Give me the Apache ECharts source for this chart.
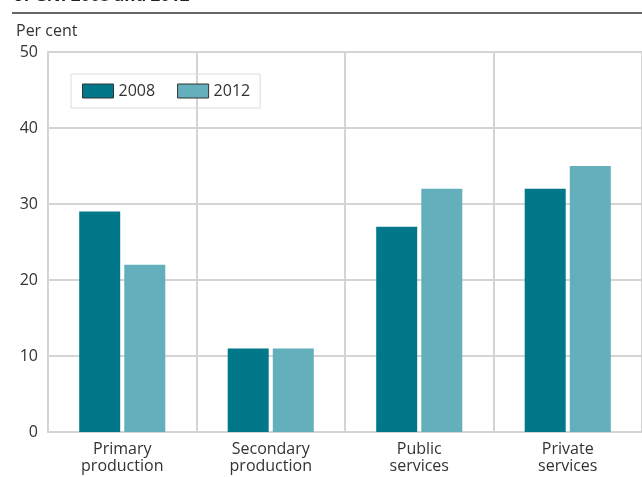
<!DOCTYPE html>
<html>
<head>
<meta charset="utf-8">
<script src="https://cdn.jsdelivr.net/npm/echarts@6/dist/echarts.min.js"></script>
<style>
  html, body { margin: 0; padding: 0; background: #fff; }
  #chart { width: 642px; height: 477px; }
</style>
</head>
<body>
<div id="chart"></div>
<script>
var categories = ['Primary\nproduction', 'Secondary\nproduction', 'Public\nservices', 'Private\nservices'];
var values2008 = [29, 11, 27, 32];
var values2012 = [22, 11, 32, 35];
var seriesNames = ['2008', '2012'];

var chart = echarts.init(document.getElementById('chart'));
var font = 'Open Sans';
var gridGray = '#d4d4d4';

var option = {
    animation: false,
    textStyle: { fontFamily: font },
    graphic: [
        {
            type: 'text', left: 13, top: -12,
            style: { text: 'of GNI 2008 and 2012', fontSize: 17, fontWeight: 'bold', fontFamily: font, fill: '#222' }
        },
        {
            type: 'line', shape: { x1: 12, y1: 13, x2: 642, y2: 13 },
            style: { stroke: '#333', lineWidth: 1.5 }
        },
        {
            type: 'text', left: 16, top: 23,
            style: { text: 'Per cent', fontSize: 16, fontFamily: font, fill: '#333' }
        }
    ],
    legend: {
        left: 71, top: 74,
        data: seriesNames,
        icon: 'rect',
        itemWidth: 31, itemHeight: 14, itemGap: 22,
        padding: [9, 10, 9, 11],
        borderColor: '#dcdcdc', borderWidth: 1,
        itemStyle: { borderColor: '#333', borderWidth: 1 },
        textStyle: { fontSize: 16, color: '#333', fontFamily: font }
    },
    grid: { left: 48, right: -2, top: 52, bottom: 45, containLabel: false },
    xAxis: {
        type: 'category',
        data: categories,
        axisLine: { lineStyle: { color: gridGray, width: 2 } },
        axisTick: { show: false },
        splitLine: { show: true, lineStyle: { color: gridGray, width: 2 } },
        axisLabel: { fontSize: 16, lineHeight: 17, color: '#333', margin: 9, fontFamily: font }
    },
    yAxis: {
        type: 'value', min: 0, max: 50, interval: 10,
        axisLine: { show: true, lineStyle: { color: gridGray, width: 2 } },
        axisTick: { show: false },
        splitLine: { lineStyle: { color: gridGray, width: 2 } },
        axisLabel: { fontSize: 16, color: '#333', margin: 10, fontFamily: font }
    },
    series: [
        {
            name: seriesNames[0], type: 'bar', data: values2008,
            barWidth: 41, barGap: '10%',
            itemStyle: { color: '#01788a' }
        },
        {
            name: seriesNames[1], type: 'bar', data: values2012,
            barWidth: 41,
            itemStyle: { color: '#63afbc' }
        }
    ]
};
chart.setOption(option);
</script>
</body>
</html>
